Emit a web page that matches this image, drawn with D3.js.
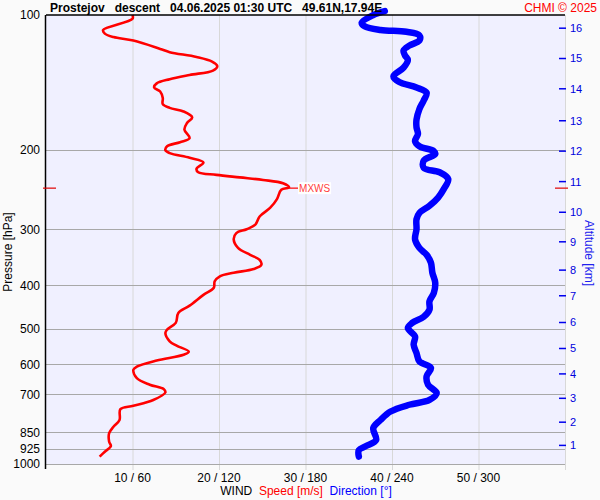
<!DOCTYPE html>
<html><head><meta charset="utf-8">
<script src="https://cdn.jsdelivr.net/npm/d3@7"></script>
<style>body{margin:0;background:#fafafa}svg{display:block}text{font-family:"Liberation Sans",Arial,sans-serif}</style>
</head><body>
<svg id="c" width="600" height="500"></svg>
<script>
// ---- data ----
const titleText = "Prostejov   descent   04.06.2025 01:30 UTC   49.61N,17.94E";
const pressureTicks = [100,200,300,400,500,600,700,850,925,1000];
const speedTicks = [10,20,30,40,50];
const speedTickLabels = ["10 / 60","20 / 120","30 / 180","40 / 240","50 / 300"];
const altKm = [16,15,14,13,12,11,10,9,8,7,6,5,4,3,2,1];
const altP  = [107,125,146,172,201,235,275,320,370,422,484,553,630,714,807,909];
// wind speed profile [m/s] vs pressure [hPa]
const speedP = [100,102,108,110,112,114,119,121,124,127,130,133,136,139,142,145,148,153,158,161,164,169,174,180,188,192,196,200,203,208,213,220,224,227,230,233,237,242,245,257,269,281,293,300,306,316,330,342,351,360,368,375,382,392,405,420,444,461,485,502,511,533,545,562,571,588,607,617,644,666,681,693,720,742,755,798,826,854,892,912,939,963];
const speedV = [10.0,10.0,6.6,6.8,7.8,10.1,13.2,14.3,17.4,19.2,19.8,19.3,16.6,14.3,12.8,12.5,13.2,13.5,13.5,14.3,15.9,16.9,16.3,16.0,16.6,15.5,14.0,13.8,14.3,16.6,18.2,17.4,17.6,19.7,22.4,25.1,27.4,28.1,27.2,26.7,25.9,24.7,24.2,23.2,22.0,21.7,22.2,23.6,24.7,24.9,24.0,21.7,20.1,19.5,19.4,18.2,16.6,15.3,15.0,14.0,13.8,14.3,15.1,16.5,15.9,12.8,10.5,10.1,10.5,12.0,13.6,13.8,12.4,10.1,8.6,8.5,7.8,7.3,7.3,7.5,6.8,6.2];
// wind direction profile [deg] vs pressure [hPa]
const dirP = [98,100,104,106,108,109,111,114,117,120,123,126,131,137,141,145,149,155,162,171,178,184,191,196,201,204,211,219,224,232,244,255,266,276,285,300,316,330,342,356,375,395,416,434,453,470,485,498,520,542,566,591,611,638,666,695,720,738,764,798,832,884,912,931,963];
const dirV = [235,227,219,221,232,250,259,259,252,248,249,251,248,241,245,257,264,262,259,257,257,258,256,259,269,270,262,262,273,279,276,272,266,259,257,257,256,259,264,267,268,270,269,266,266,262,254,251,256,255,257,259,267,264,265,271,266,252,239,232,227,229,222,217,217];
const maxWindP = 243, maxWindV = 28.1;

// ---- scales ----
const svg = d3.select("#c");
const L=46, R=565, T=15, B=464;
const x = d3.scaleLinear().domain([0,60]).range([L,R]);
const xd = d3.scaleLinear().domain([0,360]).range([L,R]);
const y = d3.scaleLog().domain([100,1000]).range([T,B]);

svg.append("rect").attr("width",600).attr("height",500).attr("fill","#fafafa");
svg.append("rect").attr("x",L).attr("y",T).attr("width",R-L).attr("height",B-T).attr("fill","#f0f0ff");

// vertical gridlines
svg.append("g").selectAll("line").data(speedTicks.concat([60])).join("line")
  .attr("x1",d=>x(d)+0.5).attr("x2",d=>x(d)+0.5).attr("y1",T).attr("y2",470)
  .attr("stroke","#d8d8d8").attr("stroke-width",1);
// horizontal gridlines
svg.append("g").selectAll("line").data(pressureTicks.slice(1)).join("line")
  .attr("x1",L).attr("x2",R).attr("y1",d=>Math.round(y(d))+0.5).attr("y2",d=>Math.round(y(d))+0.5)
  .attr("stroke","#a8a8a8").attr("stroke-width",1.2);

// pressure labels
svg.append("g").selectAll("text").data(pressureTicks).join("text")
  .attr("x",40).attr("y",d=>y(d)).attr("dy","0.36em").attr("text-anchor","end")
  .attr("font-size",12).attr("fill","#000").text(d=>d);
svg.append("text").attr("transform","translate(12,252) rotate(-90)").attr("text-anchor","middle")
  .attr("font-size",12).attr("fill","#000").text("Pressure [hPa]");

// speed/direction labels
svg.append("g").selectAll("text").data(speedTicks).join("text")
  .attr("x",d=>x(d)).attr("y",482).attr("text-anchor","middle")
  .attr("font-size",12).attr("fill","#000").text((d,i)=>speedTickLabels[i]);
const lab = svg.append("text").attr("x",306).attr("y",495).attr("text-anchor","middle").attr("font-size",12).style("white-space","pre");
lab.append("tspan").attr("fill","#000").text("WIND  ");
lab.append("tspan").attr("fill","#ff0000").text("Speed [m/s]  ");
lab.append("tspan").attr("fill","#0000ff").text("Direction [°]");

// altitude axis
svg.append("g").selectAll("line").data(altP).join("line")
  .attr("x1",559).attr("x2",566).attr("y1",d=>y(d)).attr("y2",d=>y(d))
  .attr("stroke","#0000ee").attr("stroke-width",1.5);
svg.append("g").selectAll("text").data(altKm).join("text")
  .attr("x",570).attr("y",(d,i)=>y(altP[i])).attr("dy","0.36em")
  .attr("font-size",11).attr("fill","#0000dd").text(d=>d);
svg.append("text").attr("transform","translate(585,253) rotate(90)").attr("text-anchor","middle")
  .attr("font-size",12).attr("fill","#2020ee").text("Altitude [km]");

// profiles
const speedLine = d3.line().x(d=>x(d[1])).y(d=>y(d[0])).curve(d3.curveCatmullRom);
const dirLine = d3.line().x(d=>xd(d[1])).y(d=>y(d[0])).curve(d3.curveCatmullRom);
svg.append("path").datum(speedP.map((p,i)=>[p,speedV[i]])).attr("d",speedLine)
  .attr("fill","none").attr("stroke","#ff0000").attr("stroke-width",2.6).attr("stroke-linejoin","round");
svg.append("path").datum(dirP.map((p,i)=>[p,dirV[i]])).attr("d",dirLine)
  .attr("fill","none").attr("stroke","#0000ff").attr("stroke-width",6.5).attr("stroke-linejoin","round").attr("stroke-linecap","round");

// axes frame
svg.append("line").attr("x1",L-0.5).attr("x2",L-0.5).attr("y1",T).attr("y2",469).attr("stroke","#000").attr("stroke-width",1.5);
svg.append("line").attr("x1",L).attr("x2",R).attr("y1",T).attr("y2",T).attr("stroke","#000").attr("stroke-width",1.6);

// max wind marker
const ym = y(maxWindP);
svg.append("line").attr("x1",43).attr("x2",56).attr("y1",ym).attr("y2",ym).attr("stroke","#e00000").attr("stroke-width",1.2);
svg.append("line").attr("x1",555).attr("x2",568).attr("y1",ym).attr("y2",ym).attr("stroke","#e00000").attr("stroke-width",1.2);
svg.append("line").attr("x1",x(maxWindV)).attr("x2",x(maxWindV)+9).attr("y1",ym).attr("y2",ym).attr("stroke","#ff0000").attr("stroke-width",1.2);
svg.append("rect").attr("x",x(maxWindV)+9).attr("y",ym-6).attr("width",33).attr("height",12).attr("fill","#ffffff");
svg.append("text").attr("x",x(maxWindV)+10).attr("y",ym).attr("dy","0.36em").attr("font-size",10).attr("fill","#ff4040").text("MXWS");

// title
svg.append("text").attr("x",50).attr("y",12).attr("font-size",12).attr("font-weight","bold").attr("fill","#000").style("white-space","pre").text(titleText);
svg.append("text").attr("x",597).attr("y",12).attr("text-anchor","end").attr("font-size",12).attr("fill","#ff0000").text("CHMI © 2025");
</script>
</body></html>
